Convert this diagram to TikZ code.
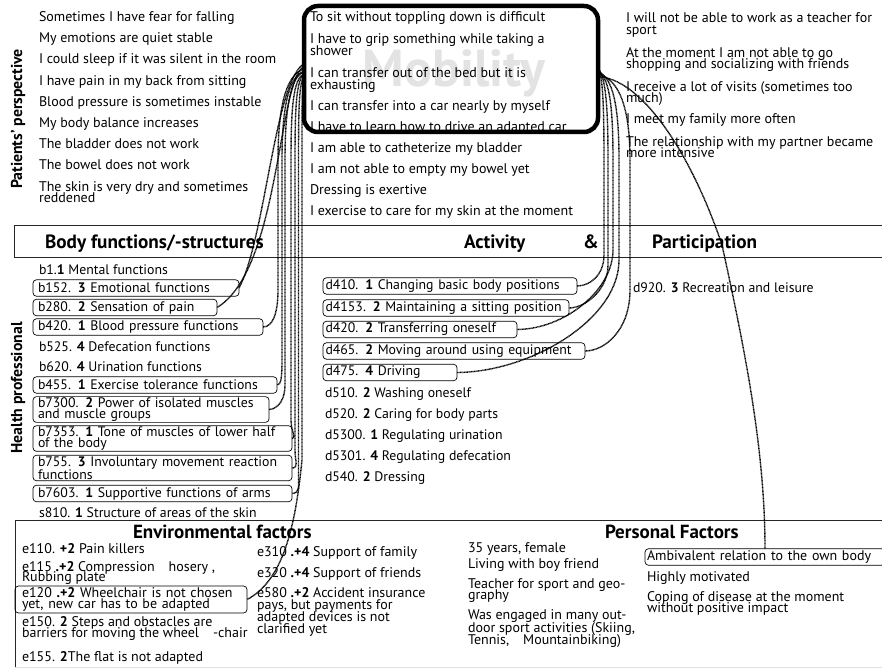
\documentclass[tikz,border=0pt]{standalone}
\usepackage{fontspec}
\setmainfont{PT Sans}
\usetikzlibrary{calc}
% tight, overlapping leading inside wrapped entries
\lineskiplimit=-100pt
\newcommand\txtfont{\fontsize{14}{11.5}\selectfont}
\newcommand\icffont{\fontsize{13.8}{11}\selectfont}
\newcommand\headfont{\fontsize{19.2}{19.2}\selectfont\bfseries}
\begin{document}
\begin{tikzpicture}[x=1pt,y=-1pt,
  every node/.style={inner sep=0pt, outer sep=0pt},
  txt/.style={anchor=base west, align=left, font=\txtfont},
  icf/.style={anchor=base west, align=left, font=\icffont},
  icfbox/.style={draw, line width=0.7pt, rounded corners=3.5pt, anchor=west,
    align=left, inner xsep=5pt, inner ysep=1pt, minimum height=16.5pt, font=\icffont},
  head/.style={anchor=base west, font=\headfont},
  subhead/.style={anchor=base west, font=\fontsize{19}{19}\selectfont\bfseries},
  side/.style={rotate=90, font=\fontsize{15.8}{15.8}\selectfont\bfseries},
  rule/.style={draw=black!85, line width=1pt},
  link/.style={line width=1.4pt, dash pattern=on 0.9pt off 0.5pt},
]
\useasboundingbox (0,0) rectangle (882,668);

% Mobility frame with its watermark
\node[anchor=base, font=\fontsize{52}{52}\selectfont\bfseries, text=black!11] (mobmark) at (454,87) {Mobility};
\node[draw, line width=4.5pt, rounded corners=14pt, minimum width=294pt, minimum height=126pt] (mob) at (451,69) {};

% side labels
\node[side] (lblpp) at (18,119) {Patients’ perspective};
\node[side] (lblhp) at (18,388) {Health professional};

% patient statements, left column (multi-line nodes sit on their last baseline)
\node[txt] (pl1) at (39,21.5) {Sometimes I have fear for falling};
\node[txt] (pl2) at (39,42.5) {My emotions are quiet stable};
\node[txt] (pl3) at (39,63.5) {I could sleep if it was silent in the room};
\node[txt] (pl4) at (39,85.5) {I have pain in my back from sitting};
\node[txt] (pl5) at (39,106.5) {Blood pressure is sometimes instable};
\node[txt] (pl6) at (39,127.5) {My body balance increases};
\node[txt] (pl7) at (39,148.5) {The bladder does not work};
\node[txt] (pl8) at (39,169.5) {The bowel does not work};
\node[txt, font=\fontsize{14}{11}\selectfont] (pl9) at (39,202.5) {The skin is very dry and sometimes\\reddened};

% patient statements, middle column
\node[txt] (pm1) at (310,21.5) {To sit without toppling down is difficult};
\node[txt, font=\fontsize{14}{12.5}\selectfont] (pm2) at (310,56) {I have to grip something while taking a\\shower};
\node[txt, font=\fontsize{14}{12}\selectfont] (pm3) at (310,89.5) {I can transfer out of the bed but it is\\exhausting};
\node[txt] (pm4) at (310,110.5) {I can transfer into a car nearly by myself};
\node[txt] (pm5) at (310,131.5) {I have to learn how to drive an adapted car};
\node[txt] (pm6) at (310,152.5) {I am able to catheterize my bladder};
\node[txt] (pm7) at (310,173.5) {I am not able to empty my bowel yet};
\node[txt] (pm8) at (310,194.5) {Dressing is exertive};
\node[txt] (pm9) at (310,215.5) {I exercise to care for my skin at the moment};

% patient statements, right column
\node[txt, font=\fontsize{14}{12.5}\selectfont] (pr1) at (626,35) {I will not be able to work as a teacher for\\sport};
\node[txt, font=\fontsize{14}{11}\selectfont] (pr2) at (626,68.5) {At the moment I am not able to go\\shopping and socializing with friends};
\node[txt, font=\fontsize{14}{11}\selectfont] (pr3) at (626,102.5) {I receive a lot of visits (sometimes too\\much)};
\node[txt] (pr4) at (626,123.5) {I meet my family more often};
\node[txt, font=\fontsize{14}{11}\selectfont] (pr5) at (626,157.5) {The relationship with my partner became\\more intensive};

% component band
\draw[rule] (14,225) -- (882,225);
\draw[rule] (14,257) -- (882,257);
\draw[rule] (14,225) -- (14,257);
\node[head] (hbody) at (45,248) {Body functions/-structures};
\node[head] (hact) at (464,248) {Activity};
\node[head] (hamp) at (583,248) {\&};
\node[head] (hpart) at (652,248) {Participation};

% body functions and structures
\node[icf] (b1) at (39,274.5) {b1.\textbf{1} Mental functions};
\node[icfbox, text width=196pt] (b152) at (33,288) {b152. \textbf{3} Emotional functions};
\node[icfbox, text width=174pt] (b280) at (33,307.5) {b280. \textbf{2} Sensation of pain};
\node[icfbox, text width=220pt] (b420) at (33,327) {b420. \textbf{1} Blood pressure functions};
\node[icf] (b525) at (39,351.5) {b525. \textbf{4} Defecation functions};
\node[icf] (b620) at (39,371.5) {b620. \textbf{4} Urination functions};
\node[icfbox, text width=234pt] (b455) at (33,385) {b455. \textbf{1} Exercise tolerance functions};
\node[icfbox, text width=226pt] (b7300) at (33,409.5) {b7300. \textbf{2} Power of isolated muscles\\and muscle groups};
\node[icfbox, text width=249pt] (b7353) at (33,438.5) {b7353. \textbf{1} Tone of muscles of lower half\\of the body};
\node[icfbox, text width=249pt] (b755) at (33,468) {b755. \textbf{3} Involuntary movement reaction\\functions};
\node[icfbox, text width=249pt] (b7603) at (33,493.5) {b7603. \textbf{1} Supportive functions of arms};
\node[icf] (s810) at (39,517) {s810. \textbf{1} Structure of areas of the skin};

% activities and participation
\node[icfbox, inner xsep=2.5pt, text width=249pt] (d410) at (323,286) {d410. \textbf{1} Changing basic body positions};
\node[icfbox, inner xsep=2.5pt, text width=241pt] (d4153) at (323,308) {d4153. \textbf{2} Maintaining a sitting position};
\node[icfbox, inner xsep=2.5pt, text width=189pt] (d420) at (323,329.5) {d420. \textbf{2} Transferring oneself};
\node[icfbox, inner xsep=2.5pt, text width=257pt] (d465) at (323,351) {d465. \textbf{2} Moving around using equipment};
\node[icfbox, inner xsep=2.5pt, text width=129pt] (d475) at (323,372.5) {d475. \textbf{4} Driving};
\node[icf] (d510) at (325,397.5) {d510. \textbf{2} Washing oneself};
\node[icf] (d520) at (325,418.5) {d520. \textbf{2} Caring for body parts};
\node[icf] (d5300) at (325,439.5) {d5300. \textbf{1} Regulating urination};
\node[icf] (d5301) at (325,460.5) {d5301. \textbf{4} Regulating defecation};
\node[icf] (d540) at (325,481.5) {d540. \textbf{2} Dressing};
\node[icf] (d920) at (633,292.5) {d920. \textbf{3} Recreation and leisure};

% contextual factors frame
\draw[rule] (882,520) -- (15,520) -- (15,667);
\draw[draw=black!12, line width=1pt] (15,667) -- (882,667);
\node[subhead] (henv) at (133,538) {Environmental factors};
\node[subhead] (hpers) at (605,538) {Personal Factors};

% environmental factors
\node[txt] (e110) at (22,553) {e110. \textbf{+2} Pain killers};
\node[txt, font=\fontsize{14}{10.5}\selectfont] (e115) at (22,581.5) {e115 \textbf{.+2} Compression\quad hosery ,\\Rubbing plate};
\node[icfbox, font=\fontsize{14}{10.5}\selectfont, inner xsep=7pt, text width=218pt, minimum height=27pt] (e120) at (15,599.5) {e120 \textbf{.+2} Wheelchair is not chosen\\yet, new car has to be adapted};
\node[txt, font=\fontsize{14}{10.5}\selectfont] (e150) at (22,637) {e150. \textbf{2} Steps and obstacles are\\barriers for moving the wheel\quad-chair};
\node[txt] (e155) at (22,661) {e155. \textbf{2}The flat is not adapted};
\node[txt] (e310) at (257,556.5) {e310 \textbf{.+4} Support of family};
\node[txt] (e320) at (257,577.5) {e320 \textbf{.+4} Support of friends};
\node[txt, font=\fontsize{14}{12}\selectfont] (e580) at (257,633.5) {e580 \textbf{.+2} Accident insurance\\pays, but payments for\\adapted devices is not\\clarified yet};

% personal factors
\node[txt] (pf1) at (468,552.5) {35 years, female};
\node[txt] (pf2) at (468,568.5) {Living with boy friend};
\node[txt, font=\fontsize{14}{11}\selectfont] (pf3) at (468,599) {Teacher for sport and geo-\\graphy};
\node[txt, font=\fontsize{14}{12.5}\selectfont] (pf4) at (468,644.5) {Was engaged in many out-\\door sport activities (Skiing,\\Tennis,\quad Mountainbiking)};
\node[icfbox, font=\txtfont, inner xsep=2pt, text width=236pt] (amb) at (645,557) {Ambivalent relation to the own body};
\node[txt] (pf6) at (647,581.5) {Highly motivated};
\node[txt, font=\fontsize{14}{11}\selectfont] (pf7) at (647,612.5) {Coping of disease at the moment\\without positive impact};

% links from the mobility statements to body functions
\draw[link] (mob.178) .. controls (275,80) and (265,240) .. (b152.east);
\draw[link] (mob.179) .. controls (278,80) and (280,270) .. (b280.east);
\draw[link] (mob.180) .. controls (285,75) and (278,110) .. (278,160) -- (278,290) .. controls (278,315) and (272,327) .. (b420.east);
\draw[link] (mob.181) .. controls (288,76) and (282,110) .. (282,160) -- (282,360) .. controls (282,378) and (281,385) .. (b455.east);
\draw[link] (mob.181.5) .. controls (290,77) and (285,110) .. (285,160) -- (285,385) .. controls (285,400) and (278,409) .. (b7300.east);
\draw[link] (mob.182) .. controls (293,78) and (291,110) .. (291,160) -- (291,420) .. controls (291,432) and (297,438) .. (b7353.east);
\draw[link] (mob.182.5) .. controls (296,80) and (295,110) .. (295,160) -- (295,450) .. controls (295,462) and (299,468) .. (b755.east);
\draw[link] (mob.183) .. controls (299,82) and (298.5,110) .. (298.5,160) -- (298.5,475) .. controls (298.5,487) and (300,493) .. (b7603.east);
\draw[link] (mob.183.5) .. controls (302,84) and (302,110) .. (302,160) -- (302,460) .. controls (296,520) and (285,580) .. (e120.east);

% links from the mobility statements to activities and participation
\draw[link] (mob.1) .. controls (603,75) and (604,110) .. (604,160) -- (604,255) .. controls (604,275) and (590,286) .. (d410.east);
\draw[link] (mob.0) .. controls (606,76) and (608,110) .. (608,160) -- (608,265) .. controls (608,290) and (585,308) .. (d4153.east);
\draw[link] (mob.-1) .. controls (610,77) and (613,110) .. (613,160) -- (613,250) .. controls (613,290) and (565,329) .. (d420.east);
\draw[link] (mob.-1.5) .. controls (614,78) and (619,110) .. (619,160) -- (619,260) .. controls (619,320) and (530,372) .. (d475.east);
\draw[link] (mob.-2) .. controls (620,79) and (630,110) .. (630,160) -- (630,290) .. controls (630,330) and (605,351) .. (d465.east);
\draw[link] (mob.-3) .. controls (640,78) and (690,150) .. (722,245) .. controls (745,350) and (765,450) .. (amb.north);
\end{tikzpicture}
\end{document}
